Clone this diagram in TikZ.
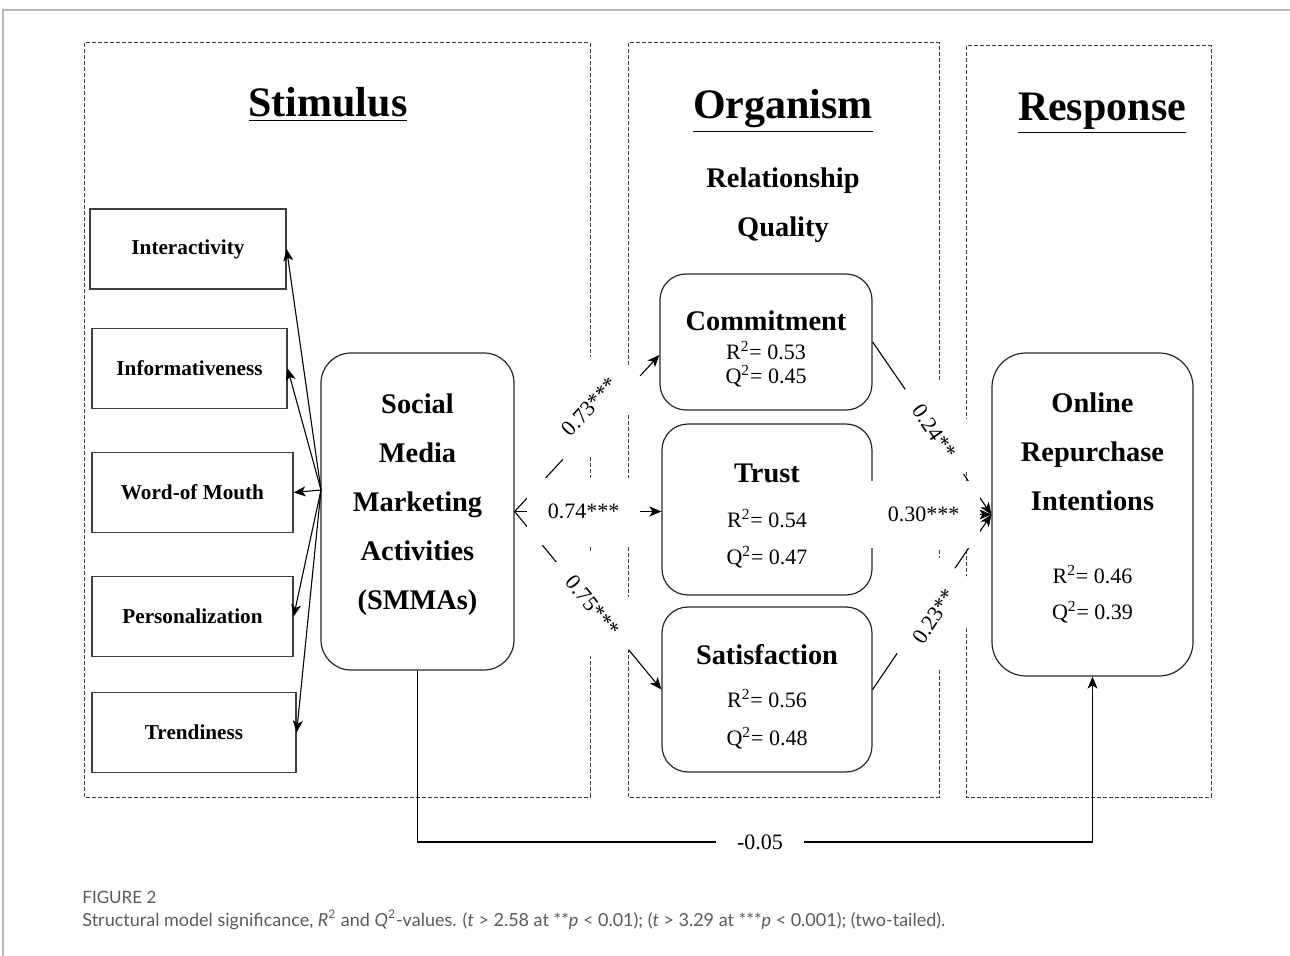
\documentclass[tikz,border=0pt]{standalone}
\usepackage{fontspec}
\setmainfont{Liberation Serif}
\newfontfamily\capfont{Lato}
\usetikzlibrary{calc,arrows.meta,positioning}
\definecolor{framegray}{RGB}{185,185,185}
\definecolor{dashgray}{RGB}{60,60,60}
\definecolor{capgray}{RGB}{90,90,90}
\tikzset{
  panel/.style={draw=dashgray, dash pattern=on 2pt off 1pt, line width=0.5pt},
  heading/.style={font=\bfseries\fontsize{21}{25}\selectfont, anchor=base},
  dimbox/.style={draw=black!75, line width=0.6pt, minimum height=40pt,
    font=\bfseries\fontsize{10.6}{12}\selectfont},
  construct/.style={draw=black!85, line width=0.6pt, rounded corners=13pt, align=center,
    font=\fontsize{11}{13}\selectfont},
  link/.style={line width=0.55pt, ->},
  coef/.style={fill=white, inner xsep=10.5pt, inner ysep=13pt, font=\fontsize{11}{13}\selectfont},
}
% bold construct name; #1 lifts the top of the text block
\newcommand{\lbl}[2][0pt]{{\bfseries\fontsize{14.2}{17}\selectfont\rule{0pt}{#1}#2}}

\begin{document}
\begin{tikzpicture}[x=0.5pt, y=-0.5pt, >={Stealth[length=6pt, width=5pt, inset=1.6pt]}]
\useasboundingbox (0,0) rectangle (1290,956);

% rule of the figure page
\draw[framegray, line width=0.8pt] (3,956) -- (3,10) -- (1290,10);

% S-O-R stages
\draw[panel] (84,43) rectangle (590,797);
\draw[panel] (628,43) rectangle (939,797);
\draw[panel] (966,46) rectangle (1211,797);
\node[heading] (stim) at (328,117) {\underline{Stimulus}};
\node[heading] (orgn) at (783,119) {\underline{Organism}};
\node[heading] (rspn) at (1102,121) {\underline{Response}};
\node[align=center, font=\bfseries\fontsize{14.2}{24.5}\selectfont] (rq) at (783,205) {Relationship\\Quality};

% SMMA dimensions
\node[dimbox, minimum width=98pt] (inter) at (188,249) {Interactivity};
\node[dimbox, minimum width=97.5pt] (info) at (189.5,368.5) {Informativeness};
\node[dimbox, minimum width=100.5pt] (wom) at (192.5,492.5) {Word-of Mouth};
\node[dimbox, minimum width=100.5pt] (pers) at (192.5,616.5) {Personalization};
\node[dimbox, minimum width=102pt] (trend) at (194,732.5) {Trendiness};

% constructs
\node[construct, rounded corners=15pt, minimum width=96.5pt, minimum height=158.5pt,
  font=\bfseries\fontsize{14.2}{24.5}\selectfont] (smma) at (417.5,511.5)
  {Social\\Media\\Marketing\\Activities\\(SMMAs)\rule[-10pt]{0pt}{10pt}};
\node[construct, minimum width=106pt, minimum height=68pt] (commit) at (766,342)
  {\lbl[17pt]{Commitment}\\[1.5pt] R\textsuperscript{2}= 0.53\\[-1pt] Q\textsuperscript{2}= 0.45};
\node[construct, minimum width=105pt, minimum height=85.5pt] (trust) at (767,509.5)
  {\lbl[15.5pt]{Trust}\\[9.5pt] R\textsuperscript{2}= 0.54\\[5.5pt] Q\textsuperscript{2}= 0.47};
\node[construct, minimum width=105pt, minimum height=82.5pt] (satis) at (767,689.5)
  {\lbl[17.5pt]{Satisfaction}\\[8.5pt] R\textsuperscript{2}= 0.56\\[6pt] Q\textsuperscript{2}= 0.48};
\node[construct, rounded corners=17pt, minimum width=100.5pt, minimum height=161.5pt] (resp) at (1092.5,514.5)
  {\lbl{Online}\\[11.5pt] \lbl{Repurchase}\\[11.5pt] \lbl{Intentions}\\[23.5pt]
   R\textsuperscript{2}= 0.46\\[5pt] Q\textsuperscript{2}= 0.39\rule[-8.5pt]{0pt}{8.5pt}};

% SMMAs -> dimensions
\coordinate (hub) at (321,490);
\foreach \d in {inter,info,wom,pers,trend}
  \draw[link] (hub) -- (\d.east);

% SMMAs -> relationship quality -> repurchase
\draw[link] (smma.east) -- ($(commit.west)+(0,13)$);
\draw[link] (smma.east) -- (smma.east -| trust.west);
\draw[link] (smma.east) -- (satis.west);
\draw[link] (commit.east) -- (resp.west);
\draw[link] (trust.east |- resp.west) -- (resp.west);
\draw[link] (satis.east) -- (resp.west);

% direct path
\coordinate (low) at (0,842);
\draw[link] (smma.south) -- (smma.south |- low) -- (resp.south |- low) -- (resp.south);

% path coefficients
\path (smma.east) -- ($(commit.west)+(0,13)$) node[coef, sloped, pos=0.6, above=-9pt] (c1) {0.73***};
\path (smma.east) -- (satis.west) node[coef, sloped, pos=0.53] (c3) {0.75***};
\path (smma.east) -- (smma.east -| trust.west) node[coef, pos=0.47] (c2) {0.74***};
\path (commit.east) -- (resp.west) node[coef, sloped, pos=0.52] (c4) {0.24**};
\path (satis.east) -- (resp.west) node[coef, sloped, pos=0.45, below=-12pt] (c6) {0.23**};
\path (trust.east |- resp.west) -- (resp.west) node[coef, pos=0.43] (c5) {0.30***};
\node[coef] (c7) at (760,842) {-0.05};

% caption
\node[anchor=west, inner sep=0pt, text=capgray, font=\capfont\fontsize{8.5}{10}\selectfont] (fig) at (82,897) {FIGURE 2};
\node[anchor=west, inner sep=0pt, text=capgray, font=\capfont\fontsize{9}{11}\selectfont] (cap) at (82,920)
  {Structural model significance, \textit{R}\textsuperscript{2} and \textit{Q}\textsuperscript{2}-values. (\textit{t} > 2.58 at **\textit{p} < 0.01); (\textit{t} > 3.29 at ***\textit{p} < 0.001); (two-tailed).};
\end{tikzpicture}
\end{document}
